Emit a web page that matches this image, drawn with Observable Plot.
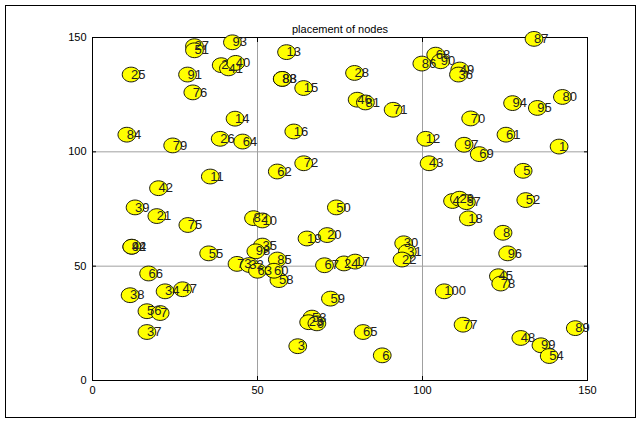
<!DOCTYPE html>
<html>
<head>
<meta charset="utf-8">
<script src="https://cdn.jsdelivr.net/npm/d3@7"></script>
<script src="https://cdn.jsdelivr.net/npm/@observablehq/plot@0.6"></script>
<style>
  html, body { margin: 0; padding: 0; background: #fff; }
  #chart { position: relative; width: 641px; height: 424px; }
  svg { font-family: "Liberation Sans", Arial, sans-serif; }
</style>
</head>
<body>
<div id="chart"></div>
<script>
const nodeIds = [25,91,76,27,51,93,2,41,40,14,13,88,83,15,28,46,81,71,87,86,68,90,49,36,94,95,80,70,
  84,79,26,64,11,42,16,72,62,50,12,97,69,61,1,43,5,52,4,29,57,39,21,75,92,44,55,66,34,47,
  19,20,85,67,24,17,30,31,22,58,18,8,96,45,78,100,38,56,7,37,59,53,23,9,3,65,6,77,48,99,54,89,
  82,10,35,98,73,32,63,60];
const nodeX = [11.7,28.8,30.4,30.9,30.9,42.4,39.0,41.2,43.4,43.2,58.8,57.5,57.5,64.0,79.4,80.2,82.7,91.1,133.8,99.8,104.0,105.5,111.3,110.9,127.3,134.8,142.4,114.6,
  10.4,24.3,38.7,45.5,35.7,20.0,61.0,64.0,56.0,73.9,101.0,112.6,117.2,125.3,141.4,102.0,130.5,131.3,109.1,111.2,113.3,12.9,19.5,28.9,11.9,11.9,35.2,17.0,22.0,27.3,
  65.0,71.1,56.0,70.3,76.2,79.6,94.3,95.4,93.8,56.5,113.9,124.4,125.8,123.0,123.7,106.6,11.4,16.5,20.5,16.5,72.1,66.5,65.5,68.0,62.2,82.0,87.8,112.3,129.8,135.9,138.4,146.3,
  48.8,51.5,51.5,49.5,43.8,47.5,50.0,55.0];
const nodeY = [133.8,133.8,126.0,146.2,144.4,147.9,137.9,136.5,138.9,114.5,143.6,131.9,131.9,127.9,134.5,122.8,121.6,118.4,149.4,138.6,142.5,139.6,136.0,133.8,121.3,119.2,124.0,114.6,
  107.5,102.8,105.7,104.5,89.2,84.1,108.9,95.0,91.4,75.7,105.7,103.1,99.0,107.5,102.3,95.0,91.7,78.9,78.5,79.5,78.0,75.7,71.9,68.0,58.5,58.5,55.6,46.8,39.0,39.9,
  62.1,63.6,52.9,50.4,51.2,52.0,60.0,56.3,52.9,43.9,70.9,64.6,55.6,45.6,42.4,39.0,37.3,30.3,29.5,21.2,35.8,27.5,25.5,25.0,15.0,21.2,11.0,24.4,18.6,15.4,10.7,22.9,
  71.0,70.0,59.0,56.5,51.0,50.5,48.0,48.0];

const xTicks = [0, 50, 100, 150];
const yTicks = [0, 50, 100, 150];
const titleText = "placement of nodes";

const nodes = nodeIds.map((id, i) => ({id, x: nodeX[i], y: nodeY[i]}));

const ellipse = {
  draw(ctx, size) {
    const r = Math.sqrt(size / Math.PI);
    const rx = r * 1.08, ry = r * 0.9, k = 0.5523;
    ctx.moveTo(rx, 0);
    ctx.bezierCurveTo(rx, ry * k, rx * k, ry, 0, ry);
    ctx.bezierCurveTo(-rx * k, ry, -rx, ry * k, -rx, 0);
    ctx.bezierCurveTo(-rx, -ry * k, -rx * k, -ry, 0, -ry);
    ctx.bezierCurveTo(rx * k, -ry, rx, -ry * k, rx, 0);
    ctx.closePath();
  }
};

const plot = Plot.plot({
  width: 641,
  height: 424,
  marginLeft: 92,
  marginRight: 54,
  marginTop: 37,
  marginBottom: 44,
  style: {fontFamily: "Liberation Sans, Arial, sans-serif", fontSize: "11px", color: "#000", background: "#fff"},
  x: {domain: [0, 150], ticks: xTicks, tickFormat: d => String(d), label: null},
  y: {domain: [0, 150], ticks: yTicks, tickFormat: d => String(d), label: null},
  marks: [
    Plot.gridX([50, 100], {stroke: "#a0a0a0", strokeOpacity: 1, strokeWidth: 1}),
    Plot.gridY([50, 100], {stroke: "#a0a0a0", strokeOpacity: 1, strokeWidth: 1}),
    Plot.axisX(xTicks, {anchor: "bottom", tickSize: -4, tickPadding: 10, fontSize: 11}),
    Plot.axisX(xTicks, {anchor: "top", tickSize: -4, text: null}),
    Plot.axisY(yTicks, {anchor: "left", tickSize: -4, tickPadding: 10, fontSize: 11}),
    Plot.axisY(yTicks, {anchor: "right", tickSize: -4, text: null}),
    Plot.frame({stroke: "#000", strokeWidth: 1}),
    Plot.dot(nodes, {x: "x", y: "y", r: 8.2, symbol: ellipse, fill: "#ffff00", stroke: "#000", strokeWidth: 0.9}),
    Plot.text(nodes, {x: "x", y: "y", text: d => String(d.id), textAnchor: "start", fontSize: 13, fill: "#222"}),
    Plot.text([titleText], {frameAnchor: "top", dy: -12, fontSize: 11, fill: "#000"})
  ]
});

const svg = d3.select(plot);
svg.append("rect")
  .attr("x", 5.5).attr("y", 5.5).attr("width", 630).attr("height", 412)
  .attr("fill", "none").attr("stroke", "#000").attr("stroke-width", 1);

document.getElementById("chart").appendChild(plot);
</script>
</body>
</html>
